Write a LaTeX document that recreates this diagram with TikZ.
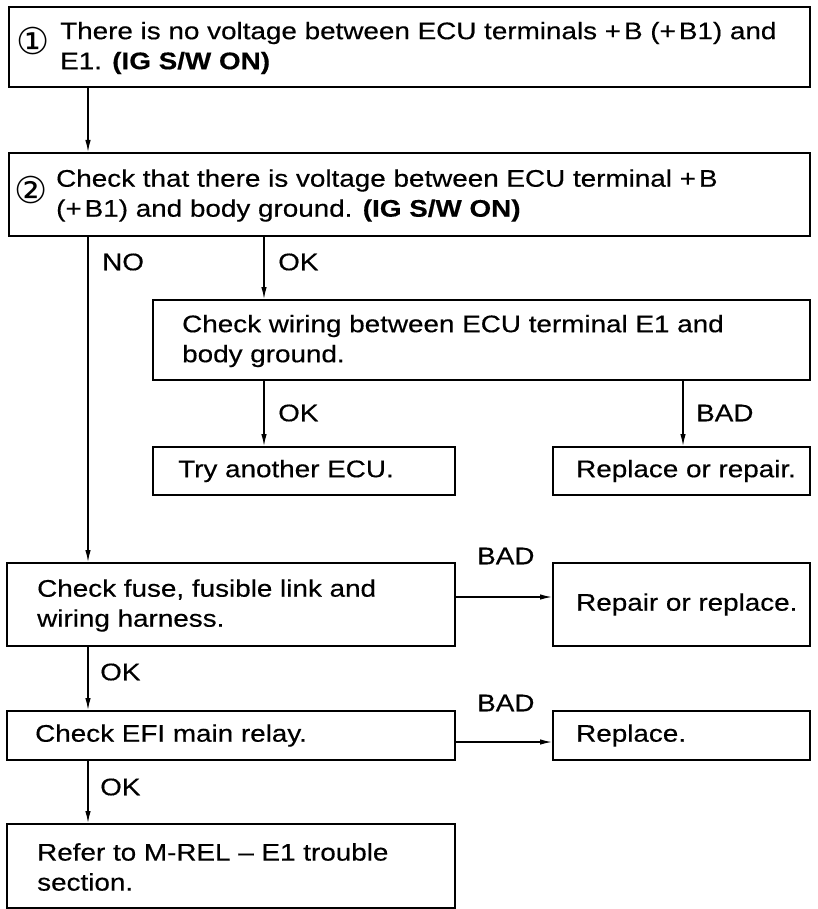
\documentclass[tikz,border=0pt]{standalone}
\usepackage{fontspec}
\setmainfont{Liberation Sans}[FakeStretch=1.16,FakeBold=0.4]
\newfontfamily\symfont{DejaVu Sans}
\usetikzlibrary{arrows.meta,calc}
\begin{document}
\begin{tikzpicture}[x=1pt,y=-1pt,
  box/.style={draw, line width=2pt, inner sep=0pt, rectangle},
  txt/.style={inner sep=0pt, anchor=west, align=left, font=\fontsize{24}{30}\selectfont},
  lbl/.style={inner sep=0pt, anchor=west, font=\fontsize{24}{30}\selectfont},
  num/.style={inner sep=0pt, font=\symfont\fontsize{37}{38}\selectfont},
  conn/.style={line width=1.3pt},
  arr/.style={conn, -{Latex[length=12pt,width=5.5pt]}}]
\useasboundingbox (0,0) rectangle (817,909);
% boxes
\node[box, minimum width=801pt, minimum height=80pt] (b1) at (409.5,47) {};
\node[box, minimum width=801pt, minimum height=83pt] (b2) at (409.5,194.5) {};
\node[box, minimum width=657pt, minimum height=80pt] (wir) at (481.5,340) {};
\node[box, minimum width=302pt, minimum height=48pt] (try) at (304,471) {};
\node[box, minimum width=257pt, minimum height=48pt] (rep1) at (681.5,471) {};
\node[box, minimum width=448pt, minimum height=83pt] (fuse) at (231,604.5) {};
\node[box, minimum width=257pt, minimum height=83pt] (rep2) at (681.5,604.5) {};
\node[box, minimum width=448pt, minimum height=49pt] (efi) at (231,735.5) {};
\node[box, minimum width=257pt, minimum height=49pt] (repl) at (681.5,735.5) {};
\node[box, minimum width=448pt, minimum height=84pt] (ref) at (231,866) {};
% texts
\node[num] (n1) at (33,41) {①};
\node[txt] (t1) at ([xshift=52pt,yshift=-1pt]b1.west) {There is no voltage between ECU terminals +\kern3pt B (+\kern3pt B1) and\\E1. \textbf{(IG S/W ON)}};
\node[num] (n2) at (31,190) {②};
\node[txt] (t2) at ([xshift=48pt,yshift=-1pt]b2.west) {Check that there is voltage between ECU terminal +\kern3pt B\\(+\kern3pt B1) and body ground. \textbf{(IG S/W ON)}};
\node[txt] (t3) at ([xshift=30pt,yshift=-1pt]wir.west) {Check wiring between ECU terminal E1 and\\body ground.};
\node[txt] (t4) at ([xshift=26pt]try.west) {Try another ECU.};
\node[txt] (t5) at ([xshift=24pt]rep1.west) {Replace or repair.};
\node[txt] (t6) at ([xshift=31pt,yshift=-1pt]fuse.west) {Check fuse, fusible link and\\wiring harness.};
\node[txt] (t7) at ([xshift=24pt]rep2.west) {Repair or replace.};
\node[txt] (t8) at ([xshift=29pt]efi.west) {Check EFI main relay.};
\node[txt] (t9) at ([xshift=24pt]repl.west) {Replace.};
\node[txt] (t10) at ([xshift=31pt,yshift=-1pt]ref.west) {Refer to M-REL -- E1 trouble\\section.};
% connector guide coordinates
\coordinate (mx) at (88,0);
\coordinate (ox) at (264,0);
\coordinate (bx) at (683,0);
\coordinate (ya) at (0,597);
\coordinate (yb) at (0,742);
% connectors
\draw[arr] (b1.south -| mx) -- (b2.north -| mx);
\draw[arr] (b2.south -| mx) -- (fuse.north -| mx);
\draw[arr] (b2.south -| ox) -- (wir.north -| ox);
\draw[arr] (wir.south -| ox) -- (try.north -| ox);
\draw[arr] (wir.south -| bx) -- (rep1.north -| bx);
\draw[arr] (fuse.east |- ya) -- (rep2.west |- ya);
\draw[arr] (fuse.south -| mx) -- (efi.north -| mx);
\draw[arr] (efi.east |- yb) -- (repl.west |- yb);
\draw[arr] (efi.south -| mx) -- (ref.north -| mx);
% labels
\node[lbl] (l1) at (102,262) {NO};
\node[lbl] (l2) at (278,262) {OK};
\node[lbl] (l3) at (278,413) {OK};
\node[lbl] (l4) at (696,413) {BAD};
\node[lbl] (l5) at (477,556) {BAD};
\node[lbl] (l6) at (100,672) {OK};
\node[lbl] (l7) at (477,703) {BAD};
\node[lbl] (l8) at (100,787) {OK};
\end{tikzpicture}
\end{document}
